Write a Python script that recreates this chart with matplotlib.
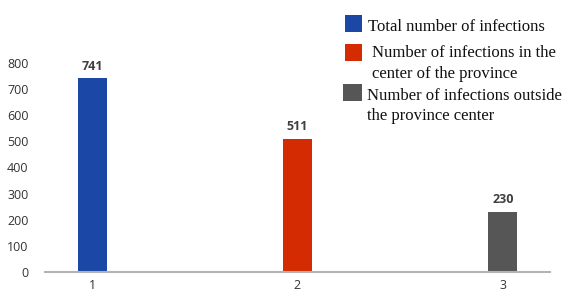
import matplotlib
matplotlib.use("Agg")
import matplotlib.pyplot as plt
from matplotlib.patches import Rectangle

categories = ["1", "2", "3"]
values = [741, 511, 230]
colors = ["#1b48a6", "#d52b02", "#565656"]
legend_labels = ["Total number of infections",
                 "Number of infections in the\ncenter of the province",
                 "Number of infections outside\nthe province center"]
yticks = [0, 100, 200, 300, 400, 500, 600, 700, 800]

W, H = 563, 293
fig = plt.figure(figsize=(W / 100, H / 100), dpi=100)
ax = fig.add_axes([45 / W, (H - 272) / H, (550 - 45) / W, (272 - 63) / H])

x = list(range(len(categories)))
bars = ax.bar(x, values, width=0.141, color=colors, zorder=2)
ax.set_xlim(-0.229, 2.229)
ax.set_ylim(0, 800)

for xi, v in zip(x, values):
    ax.text(xi, v + 22, str(v), ha="center", va="bottom", fontsize=9,
            color="#404040", fontweight="bold", family="Open Sans", clip_on=False)

for s in ["top", "right", "left"]:
    ax.spines[s].set_visible(False)
ax.spines["bottom"].set_color("#b3b3b3")
ax.spines["bottom"].set_linewidth(1.5)
ax.set_yticks(yticks)
ax.set_yticklabels([str(t) for t in yticks], family="Open Sans", fontsize=9, color="#333333")
ax.set_xticks(x)
ax.set_xticklabels(categories, family="Open Sans", fontsize=9, color="#333333")
ax.tick_params(axis="both", length=0)
ax.tick_params(axis="y", pad=12)
ax.tick_params(axis="x", pad=5)

# legend drawn in figure pixel coordinates (top-left origin)
box_pos = [(345, 15, 17), (345, 44, 17), (343, 84, 19)]
text_pos = [(368, 31), (372, 57), (367, 100)]
for (bx, by, bw), (tx, ty), c, lab in zip(box_pos, text_pos, colors, legend_labels):
    fig.patches.append(Rectangle((bx / W, 1 - (by + 17) / H), bw / W, 17 / H,
                                 transform=fig.transFigure, facecolor=c,
                                 edgecolor="none"))
    for i, line in enumerate(lab.split("\n")):
        fig.text(tx / W, 1 - (ty + i * 20.5) / H, line, ha="left", va="baseline",
                 family="Liberation Serif", fontsize=12, color="#111111")

fig.savefig("out.png", dpi=100)
